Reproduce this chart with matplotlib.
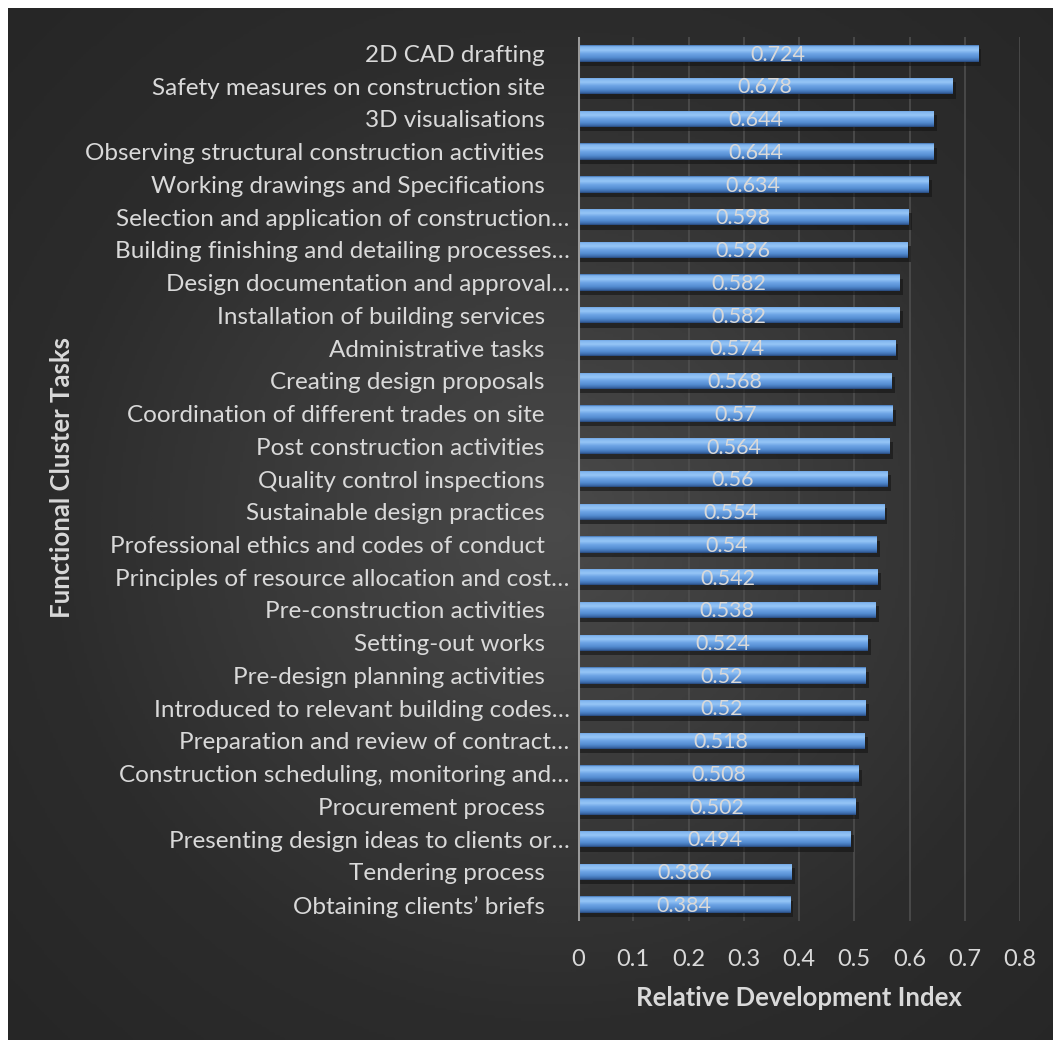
import numpy as np
import matplotlib
matplotlib.use("Agg")
import matplotlib.pyplot as plt
from matplotlib.colors import LinearSegmentedColormap
from matplotlib.patches import Rectangle

categories = [
    "2D CAD drafting ",
    "Safety measures on construction site ",
    "3D visualisations ",
    "Observing structural construction activities ",
    "Working drawings and Specifications ",
    "Selection and application of construction…",
    "Building finishing and detailing processes…",
    "Design documentation and approval…",
    "Installation of building services ",
    "Administrative tasks ",
    "Creating design proposals ",
    "Coordination of different trades on site ",
    "Post construction activities ",
    "Quality control inspections ",
    "Sustainable design practices ",
    "Professional ethics and codes of conduct ",
    "Principles of resource allocation and cost…",
    "Pre-construction activities ",
    "Setting-out works ",
    "Pre-design planning activities ",
    "Introduced to relevant building codes…",
    "Preparation and review of contract…",
    "Construction scheduling, monitoring and…",
    "Procurement process ",
    "Presenting design ideas to clients or…",
    "Tendering process ",
    "Obtaining clients\u2019 briefs ",
]
values = [0.724, 0.678, 0.644, 0.644, 0.634, 0.598, 0.596, 0.582, 0.582, 0.574,
          0.568, 0.57, 0.564, 0.56, 0.554, 0.54, 0.542, 0.538, 0.524, 0.52,
          0.52, 0.518, 0.508, 0.502, 0.494, 0.386, 0.384]
value_labels = ["0.724", "0.678", "0.644", "0.644", "0.634", "0.598", "0.596", "0.582",
                "0.582", "0.574", "0.568", "0.57", "0.564", "0.56", "0.554", "0.54",
                "0.542", "0.538", "0.524", "0.52", "0.52", "0.518", "0.508", "0.502",
                "0.494", "0.386", "0.384"]
xticks = [0, 0.1, 0.2, 0.3, 0.4, 0.5, 0.6, 0.7, 0.8]
xtick_labels = ["0", "0.1", "0.2", "0.3", "0.4", "0.5", "0.6", "0.7", "0.8"]

W, H = 1053, 1040
fig = plt.figure(figsize=(W / 100, H / 100), dpi=100)
fig.patch.set_facecolor("white")

FONT = ["Lato", "DejaVu Sans"]
TXT = "#d9d9d9"

# radial gradient background
bg = fig.add_axes([8 / W, 0, (W - 8) / W, (H - 8) / H])
bg.set_axis_off()
ny, nx = 400, 400
yy, xx = np.mgrid[0:ny, 0:nx]
cx, cy = nx * 0.52, ny * 0.5
r = np.sqrt(((xx - cx) / nx) ** 2 + ((yy - cy) / ny) ** 2) / 0.72
r = np.clip(r, 0, 1)
bgcmap = LinearSegmentedColormap.from_list("bg", ["#4a4a4a", "#3b3b3b", "#2c2c2c", "#262626"])
bg.imshow(r, cmap=bgcmap, aspect="auto", extent=[0, 1, 0, 1], vmin=0, vmax=1)
bg.set_xlim(0, 1)
bg.set_ylim(0, 1)

ax = fig.add_axes([578 / W, 1 - 921 / H, (1020 - 578) / W, (921 - 37) / H])
ax.patch.set_alpha(0)
n = len(categories)
y = np.arange(n)
ax.set_xlim(0, 0.8)
ax.set_ylim(n - 0.5, -0.5)

for xv in xticks[1:]:
    ax.axvline(xv, color="#4e4e4e", lw=1.2, zorder=0)

barh = 0.5
bar_cmap = LinearSegmentedColormap.from_list(
    "bar",
    [(0.0, "#3f6fae"), (0.08, "#7fb4ee"), (0.3, "#96c6f6"), (0.5, "#6ea5e6"),
     (0.75, "#538bd0"), (0.92, "#3a68a8"), (1.0, "#27487a")])
grad = np.linspace(0, 1, 64).reshape(-1, 1)

bars = ax.barh(y, values, height=barh, color="#6fa6e6", zorder=3, linewidth=0)
for yi, v, b in zip(y, values, bars):
    sh = Rectangle((0.0, yi - barh / 2 + 0.13), v + 0.006, barh, facecolor="#141414",
                   alpha=0.6, lw=0, zorder=2)
    ax.add_patch(sh)
    im = ax.imshow(grad, cmap=bar_cmap, aspect="auto",
                   extent=[0, v, yi + barh / 2, yi - barh / 2], zorder=4,
                   interpolation="bilinear")
    im.set_clip_path(b)

for yi, v, lab in zip(y, values, value_labels):
    ax.text(v / 2, yi + 0.04, lab, ha="center", va="center", color=TXT,
            fontsize=15.5, family=FONT, zorder=6)

ax.axvline(0, color="#9a9a9a", lw=2.2, zorder=5)

shown = [c[:-1] + "    " if c.endswith(" ") else c for c in categories]
ax.set_yticks(y)
ax.set_yticklabels(shown, family=FONT, fontsize=17.5, color=TXT)
ax.set_xticks(xticks)
ax.set_xticklabels(xtick_labels, family=FONT, fontsize=17, color=TXT)
ax.tick_params(length=0, pad=6, axis="y")
ax.tick_params(length=0, pad=20, axis="x")
for s in ax.spines.values():
    s.set_visible(False)

ax.set_xlabel("Relative Development Index", family=FONT, fontsize=18.5,
              fontweight="bold", color=TXT, labelpad=12)
fig.text(62 / W, 1 - 478 / H, "Functional Cluster Tasks", rotation=90, ha="center",
         va="center", family=FONT, fontsize=18.5, fontweight="bold", color=TXT)

fig.savefig("out.png", dpi=100, facecolor=fig.get_facecolor())
